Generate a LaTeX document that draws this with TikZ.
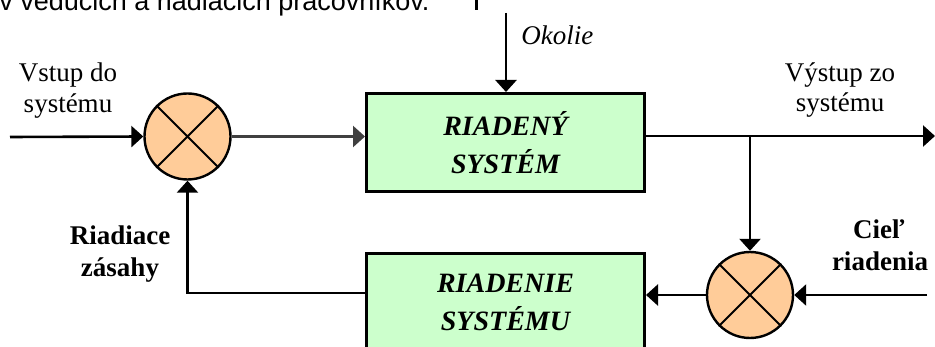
\documentclass[tikz,border=0pt]{standalone}
\usepackage{fontspec}
\setmainfont{Liberation Serif}
\newfontfamily\arialf{Liberation Sans}
\usetikzlibrary{arrows.meta}
\definecolor{peach}{HTML}{FFCC99}
\definecolor{mint}{HTML}{CCFFCC}
\definecolor{dgray}{HTML}{404040}
\begin{document}
\begin{tikzpicture}[x=1pt,y=-1pt,
  line width=2.6pt,
  arr/.style={-{Triangle[length=12pt,width=21pt]}},
  sum/.style={circle, draw, fill=peach, minimum size=86pt, inner sep=0pt, line width=2.4pt},
  blk/.style={draw, fill=mint, line width=3pt, minimum width=278pt, minimum height=98pt, inner sep=0pt, align=center, font=\fontsize{28}{38}\selectfont\bfseries\itshape},
  lbl/.style={anchor=base, inner sep=0pt, font=\fontsize{27}{30}\selectfont},
  blbl/.style={anchor=base, inner sep=0pt, font=\fontsize{27}{30}\selectfont\bfseries},
]
\useasboundingbox (0,0) rectangle (935,347);

% top text cut off by the crop
\node[anchor=base west, inner sep=0pt, font=\arialf\fontsize{27}{30}\selectfont] (toptext) at (-2,11) {v vedúcich a riadiacich pracovníkov.};
\coordinate (bar) at (476.5,10);
\draw[line width=3pt] (bar) -- ++(0,-14);

% blocks
\node[blk] (box1) at (505.5,142.5) {RIADENÝ\\SYSTÉM};
\node[blk] (box2) at (505.5,302.5) {RIADENIE\\SYSTÉMU};

% summing junctions
\node[sum] (c1) at (187.5,136.5) {};
\draw[line width=2pt] (c1.45) -- (c1.225) (c1.135) -- (c1.315);
\node[sum] (c2) at (750,295) {};
\draw[line width=2pt] (c2.45) -- (c2.225) (c2.135) -- (c2.315);

% connectors
\coordinate (in) at (10,137);
\draw[arr] (in) -- (c1.west);
\draw[arr, dgray] (c1.east) -- (c1.east -| box1.west);
\coordinate (env) at (506,13);
\draw[arr] (env) -- (env |- box1.north);
\coordinate (out) at (935,136);
\draw[arr] (box1.east |- out) -- (out);
\coordinate (br) at (750,136);
\draw[arr] (br) -- (c2.north);
\coordinate (goal) at (927,295);
\draw[arr] (goal) -- (c2.east);
\draw[arr] (c2.west) -- (c2.west -| box2.east);
\draw[arr] ([yshift=9.5pt]box2.west) -| (c1.south);

% labels
\node[lbl] (vin1) at (68,82) {Vstup do};
\node[lbl] (vin2) at (68,113) {systému};
\node[lbl] (vout1) at (840,82) {Výstup zo};
\node[lbl] (vout2) at (840,112) {systému};
\node[lbl, anchor=base west, font=\fontsize{27}{30}\selectfont\itshape] (okolie) at (520,45) {Okolie};
\node[blbl] (rz1) at (120,245) {Riadiace};
\node[blbl] (rz2) at (120,277) {zásahy};
\node[blbl] (cr1) at (879,239) {Cieľ};
\node[blbl] (cr2) at (880,271) {riadenia};
\end{tikzpicture}
\end{document}
